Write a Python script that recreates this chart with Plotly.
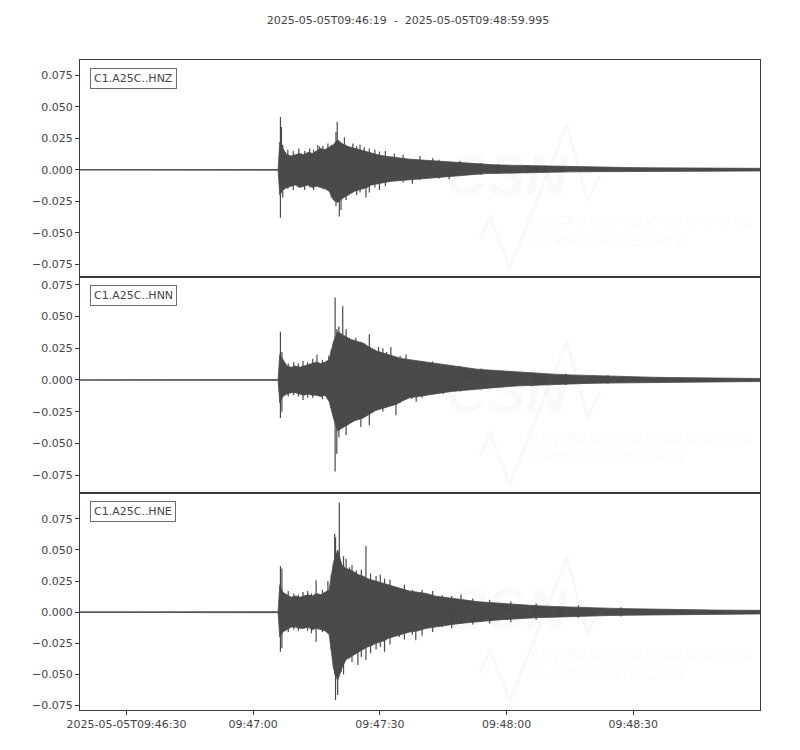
import pandas as pd
import plotly.graph_objects as go
from plotly.subplots import make_subplots

# ---------------- data ----------------
START = "2025-05-05 09:46:19"
END = "2025-05-05 09:48:59.995"
TITLE = "2025-05-05T09:46:19\u00a0\u00a0-\u00a0\u00a02025-05-05T09:48:59.995"
channels = ["C1.A25C..HNZ", "C1.A25C..HNN", "C1.A25C..HNE"]

# envelope sample times, seconds after START
t_env = [0, 20, 46.9, 47.3, 48, 49, 50, 51, 52, 53, 54, 55, 56, 57, 58, 59, 60, 61,
         62, 63, 64, 65, 66, 67, 68, 69, 70, 71, 72, 73, 74, 75, 76, 78, 80, 82, 84,
         86, 88, 90, 92, 94, 96, 98, 100, 104, 108, 112, 116, 120, 125, 130, 135, 140,
         145, 150, 155, 161]

hnz_upper = [0.0002, 0.0002, 0.0003, 0.022, 0.017, 0.012, 0.011, 0.012, 0.013, 0.012,
             0.014, 0.013, 0.015, 0.017, 0.016, 0.018, 0.020, 0.024, 0.021, 0.019, 0.018,
             0.017, 0.016, 0.015, 0.014, 0.013, 0.012, 0.0115, 0.011, 0.0105, 0.010,
             0.0095, 0.009, 0.0085, 0.008, 0.0075, 0.007, 0.0065, 0.006, 0.0058, 0.0055,
             0.005, 0.0045, 0.004, 0.0038, 0.0035, 0.003, 0.0028, 0.0025, 0.0022, 0.002,
             0.0018, 0.0016, 0.0015, 0.0014, 0.0013, 0.0012, 0.0012]
hnz_lower = [-0.0002, -0.0002, -0.0003, -0.020, -0.016, -0.014, -0.013, -0.012, -0.014,
             -0.013, -0.012, -0.014, -0.013, -0.014, -0.015, -0.017, -0.024, -0.026,
             -0.023, -0.021, -0.019, -0.017, -0.016, -0.015, -0.014, -0.012, -0.011,
             -0.0105, -0.010, -0.0095, -0.009, -0.0085, -0.008, -0.0075, -0.007, -0.0065,
             -0.006, -0.0055, -0.005, -0.0045, -0.004, -0.0035, -0.003, -0.003, -0.0025,
             -0.0023, -0.002, -0.0018, -0.0016, -0.0015, -0.0013, -0.0012, -0.0011,
             -0.001, -0.001, -0.0009, -0.0009, -0.0009]

hnn_upper = [0.0002, 0.0002, 0.0003, 0.020, 0.016, 0.011, 0.010, 0.011, 0.010, 0.011,
             0.012, 0.013, 0.014, 0.013, 0.014, 0.016, 0.030, 0.038, 0.036, 0.034, 0.032,
             0.031, 0.030, 0.029, 0.027, 0.025, 0.023, 0.022, 0.021, 0.020, 0.019, 0.018,
             0.017, 0.016, 0.015, 0.014, 0.013, 0.012, 0.011, 0.010, 0.009, 0.0085, 0.008,
             0.0075, 0.007, 0.006, 0.0052, 0.0046, 0.004, 0.0035, 0.003, 0.0026, 0.0022,
             0.0019, 0.0017, 0.0015, 0.0013, 0.0012]
hnn_lower = [-0.0002, -0.0002, -0.0003, -0.018, -0.013, -0.011, -0.010, -0.010, -0.011,
             -0.012, -0.011, -0.012, -0.012, -0.013, -0.012, -0.017, -0.030, -0.040,
             -0.038, -0.036, -0.034, -0.032, -0.031, -0.030, -0.028, -0.026, -0.024,
             -0.023, -0.022, -0.021, -0.020, -0.019, -0.017, -0.014, -0.013, -0.012,
             -0.011, -0.010, -0.009, -0.0085, -0.0075, -0.007, -0.0065, -0.006, -0.0055,
             -0.0046, -0.004, -0.0035, -0.0031, -0.0027, -0.0024, -0.0021, -0.0019,
             -0.0017, -0.0015, -0.0014, -0.0013, -0.0012]

hne_upper = [0.0003, 0.0003, 0.0004, 0.022, 0.016, 0.014, 0.012, 0.013, 0.012, 0.013,
             0.014, 0.013, 0.015, 0.014, 0.016, 0.018, 0.040, 0.050, 0.038, 0.035, 0.034,
             0.032, 0.030, 0.029, 0.027, 0.026, 0.025, 0.024, 0.023, 0.022, 0.021, 0.020,
             0.019, 0.017, 0.016, 0.015, 0.013, 0.012, 0.011, 0.010, 0.009, 0.0085, 0.008,
             0.0075, 0.007, 0.006, 0.0052, 0.0046, 0.004, 0.0036, 0.0032, 0.0028, 0.0024,
             0.0021, 0.0019, 0.0017, 0.0016, 0.0015]
hne_lower = [-0.0003, -0.0003, -0.0004, -0.020, -0.016, -0.014, -0.012, -0.012, -0.013,
             -0.013, -0.012, -0.014, -0.013, -0.014, -0.015, -0.018, -0.045, -0.055,
             -0.045, -0.038, -0.036, -0.034, -0.032, -0.030, -0.028, -0.027, -0.025,
             -0.024, -0.023, -0.021, -0.020, -0.019, -0.018, -0.016, -0.015, -0.013,
             -0.012, -0.011, -0.010, -0.009, -0.008, -0.0075, -0.007, -0.0065, -0.006,
             -0.005, -0.0044, -0.004, -0.0035, -0.003, -0.0027, -0.0024, -0.0021,
             -0.0019, -0.0017, -0.0016, -0.0015, -0.0014]

# isolated peaks (seconds after START, min, max)
hnz_spike_t = [47.45, 47.7, 48.0, 49.2, 50.5, 51.8, 53.2, 54.4, 55.3, 56.3, 56.7, 57.5,
               58.7, 59.5, 60.6, 60.9, 61.4, 61.8, 62.6, 63.0, 64.6, 65.5, 66.3, 67.3,
               67.7, 68.5, 69.8, 70.9, 72.3, 74.4, 76.5, 78.7, 80.5, 83.5, 85.0, 87.4,
               90.0, 95.0, 99.0, 106.0, 113.0]
hnz_spike_lo = [-0.038, -0.018, -0.022, -0.015, -0.016, -0.013, -0.016, -0.014, -0.016,
                -0.010, -0.010, -0.015, -0.012, -0.022, -0.029, -0.020, -0.037, -0.032,
                -0.015, -0.024, -0.015, -0.020, -0.018, -0.012, -0.022, -0.018, -0.014,
                -0.016, -0.013, -0.008, -0.010, -0.011, -0.008, -0.005, -0.007, -0.0074,
                -0.005, -0.004, -0.003, -0.0028, -0.002]
hnz_spike_hi = [0.042, 0.034, 0.020, 0.016, 0.015, 0.017, 0.015, 0.017, 0.016, 0.0198,
                0.0185, 0.019, 0.021, 0.020, 0.030, 0.038, 0.015, 0.020, 0.026, 0.020,
                0.021, 0.019, 0.020, 0.018, 0.012, 0.017, 0.016, 0.0145, 0.015, 0.013,
                0.012, 0.007, 0.011, 0.0093, 0.008, 0.005, 0.007, 0.0055, 0.0045, 0.0038,
                0.003]

hnn_spike_t = [47.45, 47.8, 49.3, 50.6, 51.7, 52.8, 53.9, 55.1, 56.1, 57.4, 58.9, 59.5,
               60.4, 60.8, 61.3, 62.2, 63.0, 63.8, 64.6, 65.3, 66.5, 67.3, 68.5, 69.8,
               70.7, 71.7, 72.6, 73.6, 74.8, 75.8, 77.2, 78.5, 79.6, 81.0, 83.5, 86.0,
               90.0, 95.0, 100.0, 107.0, 115.0, 125.0]
hnn_spike_lo = [-0.030, -0.025, -0.013, -0.012, -0.013, -0.0158, -0.014, -0.014, -0.011,
                -0.015, -0.013, -0.022, -0.072, -0.058, -0.045, -0.036, -0.0435, -0.030,
                -0.033, -0.031, -0.037, -0.028, -0.0356, -0.024, -0.022, -0.025, -0.021,
                -0.018, -0.0277, -0.018, -0.015, -0.015, -0.0172, -0.014, -0.009, -0.011,
                -0.009, -0.0075, -0.006, -0.005, -0.004, -0.003]
hnn_spike_hi = [0.038, 0.022, 0.013, 0.014, 0.013, 0.015, 0.014, 0.0167, 0.0198, 0.016,
                0.0193, 0.024, 0.065, 0.040, 0.042, 0.058, 0.040, 0.033, 0.031, 0.033,
                0.030, 0.029, 0.036, 0.024, 0.026, 0.025, 0.022, 0.026, 0.015, 0.019,
                0.020, 0.016, 0.012, 0.015, 0.0145, 0.012, 0.011, 0.009, 0.0075, 0.006,
                0.005, 0.0038]

hne_spike_t = [47.45, 47.8, 49.3, 50.6, 51.7, 52.8, 53.9, 54.8, 55.9, 57.4, 58.7, 59.5,
               60.3, 60.5, 61.0, 61.4, 61.8, 62.4, 63.0, 63.8, 64.4, 65.4, 65.8, 66.6,
               67.7, 68.8, 70.1, 71.1, 72.1, 73.4, 75.6, 76.8, 78.7, 79.5, 81.0, 83.5,
               85.8, 88.0, 90.2, 93.0, 97.0, 102.0, 108.0, 118.0, 128.0]
hne_spike_lo = [-0.0318, -0.029, -0.016, -0.014, -0.015, -0.012, -0.015, -0.017, -0.0238,
                -0.016, -0.014, -0.030, -0.050, -0.0706, -0.0666, -0.040, -0.048, -0.050,
                -0.030, -0.0372, -0.040, -0.030, -0.0425, -0.036, -0.0385, -0.033,
                -0.030, -0.028, -0.0318, -0.026, -0.020, -0.022, -0.018, -0.0225, -0.019,
                -0.016, -0.012, -0.013, -0.009, -0.010, -0.009, -0.008, -0.006, -0.0045,
                -0.0035]
hne_spike_hi = [0.037, 0.035, 0.017, 0.015, 0.014, 0.0163, 0.017, 0.015, 0.0257, 0.018,
                0.025, 0.030, 0.063, 0.060, 0.050, 0.088, 0.040, 0.045, 0.043, 0.036,
                0.038, 0.0337, 0.028, 0.034, 0.0532, 0.031, 0.029, 0.030, 0.027, 0.026,
                0.019, 0.022, 0.018, 0.015, 0.018, 0.017, 0.0136, 0.013, 0.0142, 0.011,
                0.010, 0.0085, 0.007, 0.0055, 0.004]

y_ranges = [[-0.0849, 0.0873], [-0.0892, 0.0813], [-0.0786, 0.0955]]
y_tickvals = [-0.075, -0.05, -0.025, 0.0, 0.025, 0.05, 0.075]
y_ticktext = ["\u22120.075", "\u22120.050", "\u22120.025", "0.000", "0.025", "0.050", "0.075"]
x_tick_times = ["2025-05-05 09:46:30", "2025-05-05 09:47:00", "2025-05-05 09:47:30",
                "2025-05-05 09:48:00", "2025-05-05 09:48:30"]
x_ticktext = ["2025-05-05T09:46:30", "09:47:00", "09:47:30", "09:48:00", "09:48:30"]

# ---------------- figure ----------------
WAVE = "#4a4a4a"
TEXT = "#444444"
FRAME = "#3a3a3a"
BOX = "#6a6a6a"
FONT = "DejaVu Sans"

start = pd.Timestamp(START)


def to_time(secs):
    return list(start + pd.to_timedelta(secs, unit="s"))


fig = make_subplots(rows=3, cols=1, shared_xaxes=True, vertical_spacing=0)

series = [
    (hnz_upper, hnz_lower, hnz_spike_t, hnz_spike_lo, hnz_spike_hi),
    (hnn_upper, hnn_lower, hnn_spike_t, hnn_spike_lo, hnn_spike_hi),
    (hne_upper, hne_lower, hne_spike_t, hne_spike_lo, hne_spike_hi),
]

times = to_time(t_env)
for i, (up, lo, st, slo, shi) in enumerate(series, start=1):
    fig.add_trace(go.Scatter(
        x=times + times[::-1], y=up + lo[::-1], mode="lines", fill="toself",
        fillcolor=WAVE, line=dict(color=WAVE, width=0.8), hoverinfo="skip",
        showlegend=False), row=i, col=1)
    sx, sy = [], []
    for tt, a, b in zip(to_time(st), slo, shi):
        sx += [tt, tt, None]
        sy += [a, b, None]
    fig.add_trace(go.Scatter(x=sx, y=sy, mode="lines",
                             line=dict(color=WAVE, width=1.2),
                             hoverinfo="skip", showlegend=False), row=i, col=1)

for i in range(1, 4):
    fig.update_yaxes(range=y_ranges[i - 1], tickvals=y_tickvals, ticktext=y_ticktext,
                     showline=True, mirror=True, linecolor=FRAME, linewidth=1,
                     ticks="outside", ticklen=4, tickcolor=FRAME, showgrid=False,
                     zeroline=False, tickfont=dict(family=FONT, size=11, color=TEXT),
                     row=i, col=1)
    fig.update_xaxes(type="date", range=[START, END], showline=True, mirror=True,
                     linecolor=FRAME, linewidth=1, showgrid=False, zeroline=False,
                     tickvals=x_tick_times, ticktext=x_ticktext,
                     ticks="outside" if i == 3 else "", ticklen=4, tickcolor=FRAME,
                     showticklabels=(i == 3),
                     tickfont=dict(family=FONT, size=11, color=TEXT), row=i, col=1)

    ax = "" if i == 1 else str(i)
    # channel label box
    fig.add_annotation(text=channels[i - 1], xref=f"x{ax} domain", yref=f"y{ax} domain",
                       x=0.0147, y=0.963, xanchor="left", yanchor="top", showarrow=False,
                       font=dict(family=FONT, size=11, color=TEXT), bgcolor="white",
                       bordercolor=BOX, borderwidth=1, borderpad=3)
    # faint CSN watermark
    fig.add_annotation(text="CSN", xref=f"x{ax} domain", yref=f"y{ax} domain",
                       x=0.628, y=0.47, showarrow=False,
                       font=dict(family="Liberation Sans", size=58,
                                 color="rgba(0,0,0,0.025)",
                                 weight="bold", style="italic"))
    fig.add_annotation(text="CENTRO SISMOLÓGICO NACIONAL", xref=f"x{ax} domain",
                       yref=f"y{ax} domain", x=0.66, y=0.215, xanchor="left",
                       showarrow=False,
                       font=dict(family="Liberation Sans", size=13,
                                 color="rgba(0,0,0,0.045)", style="italic"))
    fig.add_annotation(text="UNIVERSIDAD DE CHILE", xref=f"x{ax} domain",
                       yref=f"y{ax} domain", x=0.66, y=0.122, xanchor="left",
                       showarrow=False,
                       font=dict(family="Liberation Sans", size=13,
                                 color="rgba(0,0,0,0.045)", style="italic"))
    fig.add_shape(type="path", xref=f"x{ax} domain", yref=f"y{ax} domain",
                  path="M0.588,0.171 L0.603,0.276 L0.632,0.041 L0.716,0.70 L0.746,0.355 L0.765,0.47",
                  line=dict(color="#f8f8f8", width=3), layer="below")

fig.update_layout(
    width=800, height=750,
    margin=dict(l=72, r=48, t=52, b=48),
    paper_bgcolor="white", plot_bgcolor="white",
    showlegend=False,
    title=dict(text=TITLE, x=0.5, xref="container", xanchor="center",
               y=1 - 12 / 750, yref="container", yanchor="middle",
               font=dict(family=FONT, size=11, color=TEXT)),
)

fig.write_html("out.html")
